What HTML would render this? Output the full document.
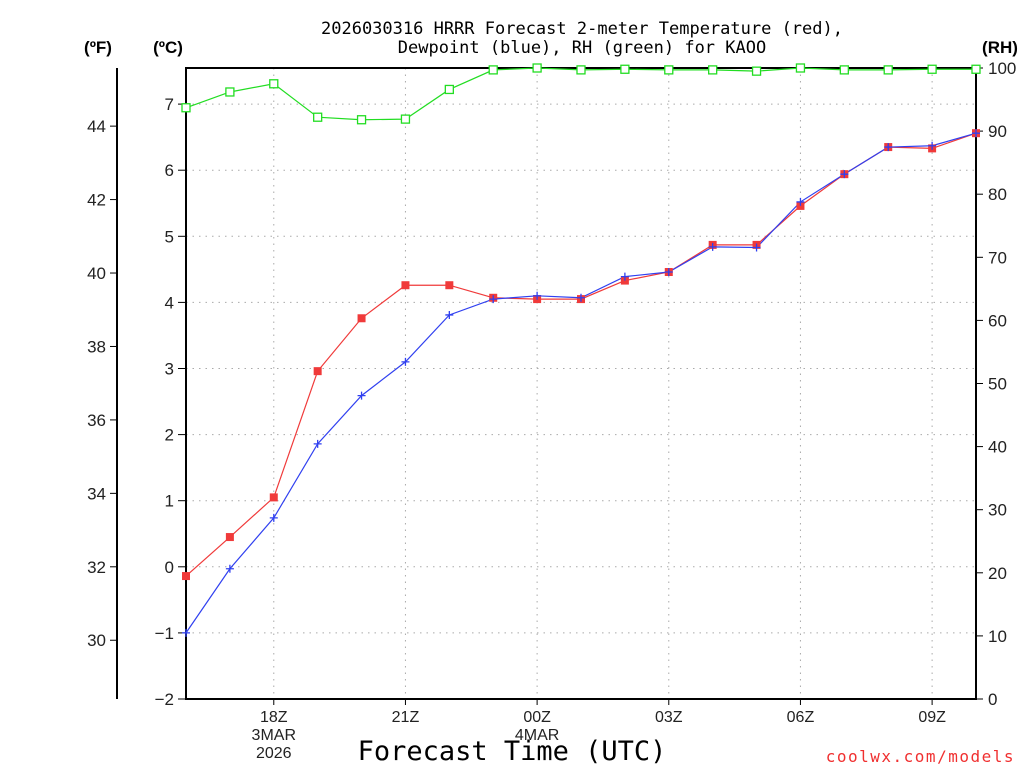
<!DOCTYPE html>
<html><head><meta charset="utf-8"><style>
html,body{margin:0;padding:0;background:#fff;}
</style></head><body>
<svg id="chart" width="1024" height="768" xmlns="http://www.w3.org/2000/svg">
<g id="grid"></g>
<g id="axes"></g>
<g id="series"></g>
<text x="582" y="34" font-size="17" text-anchor="middle" font-family="DejaVu Sans Mono, monospace">2026030316 HRRR Forecast 2-meter Temperature (red),</text>
<text x="582" y="53" font-size="17" text-anchor="middle" font-family="DejaVu Sans Mono, monospace">Dewpoint (blue), RH (green) for KAOO</text>
<text x="98" y="53" font-size="17" font-weight="bold" text-anchor="middle" font-family="Liberation Sans, sans-serif">(ºF)</text>
<text x="168" y="53" font-size="17" font-weight="bold" text-anchor="middle" font-family="Liberation Sans, sans-serif">(ºC)</text>
<text x="1000" y="53" font-size="17" font-weight="bold" text-anchor="middle" font-family="Liberation Sans, sans-serif">(RH)</text>
<text x="512" y="760" font-size="27" text-anchor="middle" font-family="DejaVu Sans Mono, monospace">Forecast Time (UTC)</text>
<text x="1015" y="762" font-size="16" fill="#f03030" text-anchor="end" letter-spacing="1.5" font-family="DejaVu Sans Mono, monospace">coolwx.com/models</text>
</svg>
<script>
const hours = ["16Z","17Z","18Z","19Z","20Z","21Z","22Z","23Z","00Z","01Z","02Z","03Z","04Z","05Z","06Z","07Z","08Z","09Z","10Z"];
const tempC = [-0.14,0.45,1.05,2.96,3.76,4.26,4.26,4.07,4.05,4.05,4.33,4.46,4.87,4.87,5.46,5.94,6.35,6.33,6.56];
const dewC = [-1.0,-0.03,0.74,1.86,2.59,3.1,3.81,4.05,4.1,4.07,4.39,4.46,4.84,4.83,5.52,5.94,6.35,6.37,6.56];
const rh = [93.7,96.2,97.5,92.2,91.8,91.9,96.6,99.7,100,99.7,99.8,99.7,99.7,99.5,100,99.7,99.7,99.8,99.8];
const cTicks = [-2,-1,0,1,2,3,4,5,6,7];
const fTicks = [30,32,34,36,38,40,42,44];
const rhTicks = [0,10,20,30,40,50,60,70,80,90,100];
const xTickLabels = [{i:2,t:["18Z","3MAR","2026"]},{i:5,t:["21Z"]},{i:8,t:["00Z","4MAR"]},{i:11,t:["03Z"]},{i:14,t:["06Z"]},{i:17,t:["09Z"]}];

const X0=186,X1=976,Y0=68,Y1=699;
const x = i => X0 + i*(X1-X0)/(hours.length-1);
const yC = c => 699 - (c+2)*66.1;
const yF = f => yC((f-32)*5/9);
const yR = r => Y1 - r*(Y1-Y0)/100;
const NS="http://www.w3.org/2000/svg";
const SANS="Liberation Sans, DejaVu Sans, sans-serif";
function mk(parent,tag,attrs,text){const e=document.createElementNS(NS,tag);for(const k in attrs)e.setAttribute(k,attrs[k]);if(text!==undefined)e.textContent=text;parent.appendChild(e);return e;}
const grid=document.getElementById('grid'),axes=document.getElementById('axes'),series=document.getElementById('series');

cTicks.forEach(c=>{
  if(c>-2){const g=mk(grid,'line',{x1:X0,x2:X1,y1:yC(c),y2:yC(c),stroke:'#aaa','stroke-dasharray':'1.5,5'});
  }
  mk(axes,'line',{x1:X0-8,x2:X0,y1:yC(c),y2:yC(c),stroke:'#000'});
  const t=mk(axes,'text',{x:X0-12,y:yC(c)+6,'font-size':17,'text-anchor':'end',fill:'#222','font-family':SANS},c<0?'\u2212'+(-c):String(c));
  
});
xTickLabels.forEach(o=>{
  const g=mk(grid,'line',{x1:x(o.i),x2:x(o.i),y1:Y0,y2:Y1,stroke:'#aaa','stroke-dasharray':'1.5,5'});
  
  mk(axes,'line',{x1:x(o.i),x2:x(o.i),y1:Y1,y2:Y1+6,stroke:'#000'});
  o.t.forEach((s,k)=>{const t=mk(axes,'text',{x:x(o.i),y:722+k*18,'font-size':16,'text-anchor':'middle',fill:'#222','font-family':SANS},s);
  });
});
mk(axes,'line',{x1:117,x2:117,y1:Y0,y2:Y1,stroke:'#000','stroke-width':2});
fTicks.forEach(f=>{
  mk(axes,'line',{x1:110,x2:117,y1:yF(f),y2:yF(f),stroke:'#000'});
  const t=mk(axes,'text',{x:106,y:yF(f)+6,'font-size':17,'text-anchor':'end',fill:'#222','font-family':SANS},String(f));
  
});
rhTicks.forEach(r=>{
  mk(axes,'line',{x1:X1,x2:X1+7,y1:yR(r),y2:yR(r),stroke:'#000'});
  const t=mk(axes,'text',{x:X1+12,y:yR(r)+6,'font-size':17,fill:'#222','font-family':SANS},String(r));
  
});
const frame=mk(axes,'rect',{x:X0,y:Y0,width:X1-X0,height:Y1-Y0,fill:'none',stroke:'#000','stroke-width':2});


function line(vals,yf,col,name){
  const p=mk(series,'polyline',{points:vals.map((v,i)=>x(i)+','+yf(v)).join(' '),fill:'none',stroke:col,'stroke-width':1.2});
  
}
line(rh,yR,'#22dd22','rh-line');
line(tempC,yC,'#f03a3a','temperature-line');
line(dewC,yC,'#3040f0','dewpoint-line');
rh.forEach((v,i)=>{const m=mk(series,'rect',{x:x(i)-4,y:yR(v)-4,width:8,height:8,fill:'#fff',stroke:'#22dd22','stroke-width':1.3});
  });
tempC.forEach((v,i)=>{const m=mk(series,'rect',{x:x(i)-4,y:yC(v)-4,width:8,height:8,fill:'#f03a3a'});
  });
dewC.forEach((v,i)=>{const m=mk(series,'path',{d:`M${x(i)-4},${yC(v)}h8M${x(i)},${yC(v)-4}v8`,stroke:'#3040f0','stroke-width':1.3});
  });
</script>
</body></html>
